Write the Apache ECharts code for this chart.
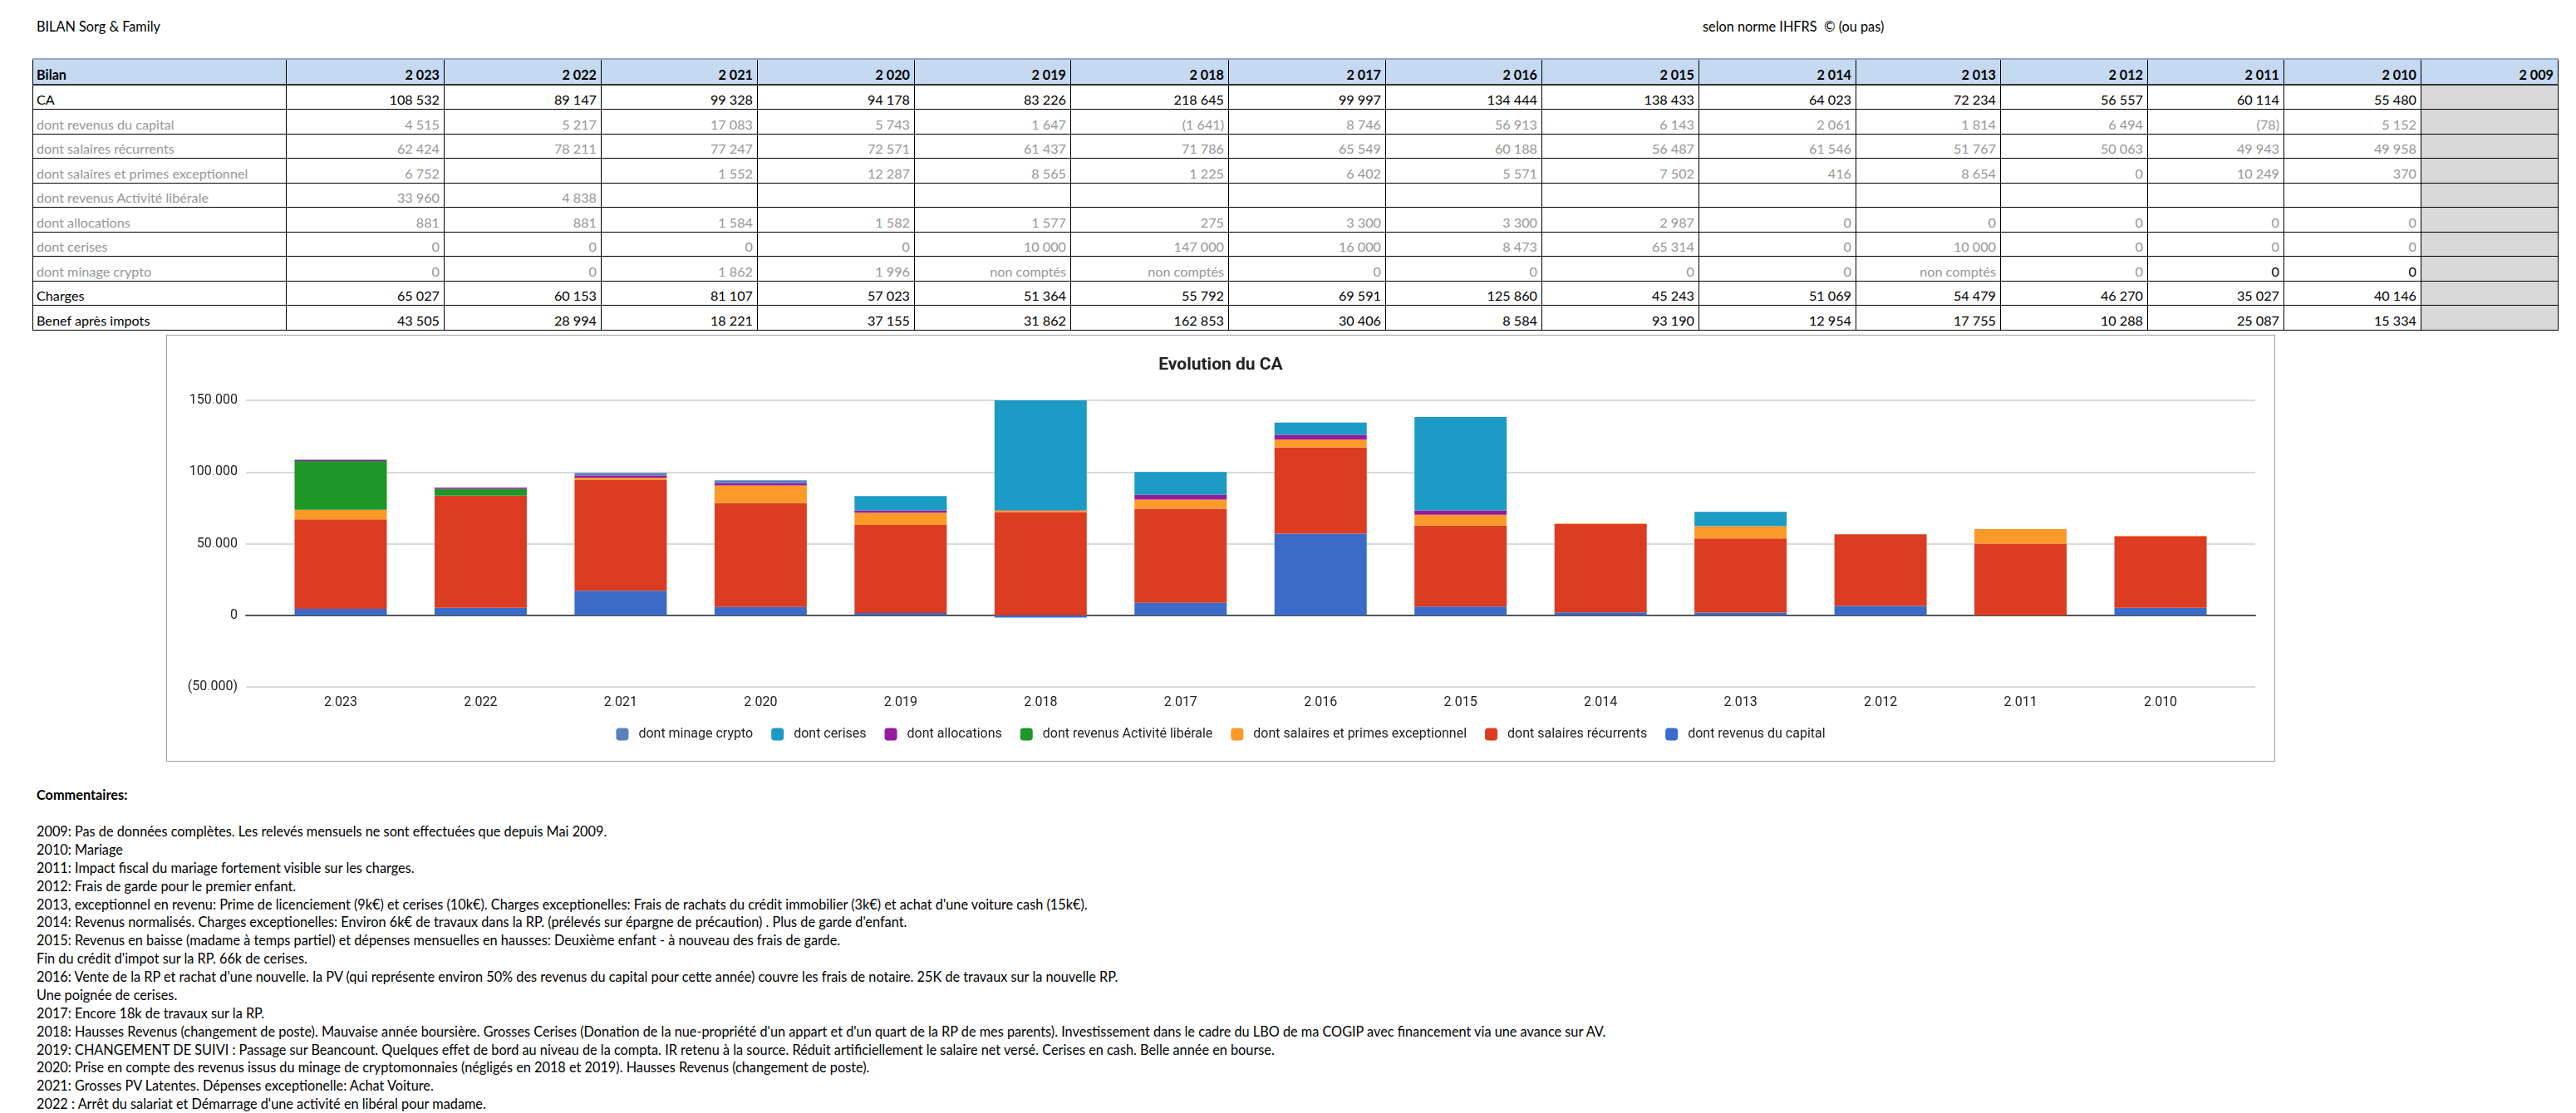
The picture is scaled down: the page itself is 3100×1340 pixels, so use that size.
<!DOCTYPE html>
<html>
<head>
<meta charset="utf-8">
<script src="https://cdn.jsdelivr.net/npm/echarts@6/dist/echarts.min.js"></script>
<style>
  html, body { margin:0; padding:0; background:#fff; }
  body { width:3100px; height:1340px; position:relative; overflow:hidden; font-family: 'Lato', 'Liberation Sans', sans-serif; color:#000; }
  .txt { position:absolute; font-size:16.3px; white-space:nowrap; line-height:20px; }
  #tbl { position:absolute; left:39px; top:70px; border-collapse:collapse; table-layout:fixed; font-size:16.2px; }
  #tbl td { border:1px solid #000; height:27.5px; padding:0 5px 1px 4px; vertical-align:bottom; white-space:nowrap; overflow:hidden; line-height:20px; }
  #tbl td.num { text-align:right; }
  #tbl tr.hdr td { background:#c5d9f1; font-weight:bold; border-top:2px solid #95a9c7; border-bottom:2px solid #333; }
  #tbl tr.sub td { color:#969696; }
  #tbl td.gray { background:#d9d9d9; }
  #tbl td.blk { color:#000 !important; }
  #chartBox { position:absolute; left:200px; top:403px; width:2538px; height:514px; box-sizing:border-box; border:1px solid #9e9e9e; }
  #chart { position:absolute; left:201px; top:404px; width:2536px; height:512px; }
  #comments { position:absolute; left:44px; top:990px; font-size:16.3px; line-height:21.87px; white-space:nowrap; }
</style>
</head>
<body>
<div class="txt" style="left:44px; top:22px;">BILAN Sorg &amp; Family</div>
<div class="txt" style="left:2049px; top:22px;">selon norme IHFRS&nbsp; © (ou pas)</div>
<table id="tbl"></table>
<div id="chartBox"></div>
<div id="chart"></div>
<div class="txt" style="left:44px; top:947px; font-weight:bold;">Commentaires:</div>
<div id="comments"></div>
<script>
// ---------- DATA ----------
const tableYears = [2023, 2022, 2021, 2020, 2019, 2018, 2017, 2016, 2015, 2014, 2013, 2012, 2011, 2010, 2009];
const chartYears = [2023, 2022, 2021, 2020, 2019, 2018, 2017, 2016, 2015, 2014, 2013, 2012, 2011, 2010];
const caTotal      = [108532, 89147, 99328, 94178, 83226, 218645, 99997, 134444, 138433, 64023, 72234, 56557, 60114, 55480];
const revCapital   = [4515, 5217, 17083, 5743, 1647, -1641, 8746, 56913, 6143, 2061, 1814, 6494, -78, 5152];
const salRecurrent = [62424, 78211, 77247, 72571, 61437, 71786, 65549, 60188, 56487, 61546, 51767, 50063, 49943, 49958];
const salExcept    = [6752, null, 1552, 12287, 8565, 1225, 6402, 5571, 7502, 416, 8654, 0, 10249, 370];
const revLiberal   = [33960, 4838, null, null, null, null, null, null, null, null, null, null, null, null];
const allocations  = [881, 881, 1584, 1582, 1577, 275, 3300, 3300, 2987, 0, 0, 0, 0, 0];
const cerises      = [0, 0, 0, 0, 10000, 147000, 16000, 8473, 65314, 0, 10000, 0, 0, 0];
const minageCrypto = [0, 0, 1862, 1996, 'non comptés', 'non comptés', 0, 0, 0, 0, 'non comptés', 0, 0, 0];
const charges      = [65027, 60153, 81107, 57023, 51364, 55792, 69591, 125860, 45243, 51069, 54479, 46270, 35027, 40146];
const benef        = [43505, 28994, 18221, 37155, 31862, 162853, 30406, 8584, 93190, 12954, 17755, 10288, 25087, 15334];
const yTicks = [-50000, 0, 50000, 100000, 150000];

const seriesNames = ['dont revenus du capital', 'dont salaires récurrents', 'dont salaires et primes exceptionnel',
  'dont revenus Activité libérale', 'dont allocations', 'dont cerises', 'dont minage crypto'];
const seriesColors = ['#3a6bc9', '#db3c22', '#fb9a28', '#1f9628', '#951b9c', '#1c9bc6', '#5a80bf'];

const commentLines = [
  "2009: Pas de données complètes. Les relevés mensuels ne sont effectuées que depuis Mai 2009.",
  "2010: Mariage",
  "2011: Impact fiscal du mariage fortement visible sur les charges.",
  "2012: Frais de garde pour le premier enfant.",
  "2013, exceptionnel en revenu: Prime de licenciement (9k€) et cerises (10k€). Charges exceptionelles: Frais de rachats du crédit immobilier (3k€) et achat d'une voiture cash (15k€).",
  "2014: Revenus normalisés. Charges exceptionelles: Environ 6k€ de travaux dans la RP. (prélevés sur épargne de précaution) . Plus de garde d'enfant.",
  "2015: Revenus en baisse (madame à temps partiel) et dépenses mensuelles en hausses: Deuxième enfant - à nouveau des frais de garde.",
  "Fin du crédit d'impot sur la RP. 66k de cerises.",
  "2016: Vente de la RP et rachat d'une nouvelle. la PV (qui représente environ 50% des revenus du capital pour cette année) couvre les frais de notaire. 25K de travaux sur la nouvelle RP.",
  "Une poignée de cerises.",
  "2017: Encore 18k de travaux sur la RP.",
  "2018: Hausses Revenus (changement de poste). Mauvaise année boursière. Grosses Cerises (Donation de la nue-propriété d'un appart et d'un quart de la RP de mes parents). Investissement dans le cadre du LBO de ma COGIP avec financement via une avance sur AV.",
  "2019: CHANGEMENT DE SUIVI : Passage sur Beancount. Quelques effet de bord au niveau de la compta. IR retenu à la source. Réduit artificiellement le salaire net versé. Cerises en cash. Belle année en bourse.",
  "2020: Prise en compte des revenus issus du minage de cryptomonnaies (négligés en 2018 et 2019). Hausses Revenus (changement de poste).",
  "2021: Grosses PV Latentes. Dépenses exceptionelle: Achat Voiture.",
  "2022 : Arrêt du salariat et Démarrage d'une activité en libéral pour madame."
];

// ---------- TABLE ----------
function group(n, sep) { return String(n).replace(/\B(?=(\d{3})+(?!\d))/g, sep); }
function fmt(v) {
  if (v === null || v === undefined) return '';
  if (typeof v === 'string') return v;
  if (v < 0) return '(' + group(-v, '\u00a0') + ')';
  return group(v, '\u00a0');
}
const colWidths = [305, 190, 189, 188, 189, 188, 190, 189, 188, 189, 189, 174, 177, 164, 165, 165];
const rows = [
  ['CA', caTotal, ''],
  ['dont revenus du capital', revCapital, 'sub'],
  ['dont salaires récurrents', salRecurrent, 'sub'],
  ['dont salaires et primes exceptionnel', salExcept, 'sub'],
  ['dont revenus Activité libérale', revLiberal, 'sub'],
  ['dont allocations', allocations, 'sub'],
  ['dont cerises', cerises, 'sub'],
  ['dont minage crypto', minageCrypto, 'sub'],
  ['Charges', charges, ''],
  ['Benef après impots', benef, '']
];
let html = '<colgroup>' + colWidths.map(w => '<col style="width:' + w + 'px">').join('') + '</colgroup>';
html += '<tr class="hdr"><td>Bilan</td>' + tableYears.map(y => '<td class="num">' + group(y, '\u00a0') + '</td>').join('') + '</tr>';
rows.forEach(r => {
  html += '<tr class="' + r[2] + '"><td>' + r[0] + '</td>';
  for (let i = 0; i < tableYears.length; i++) {
    if (i >= r[1].length) { html += '<td class="num gray"></td>'; continue; }
    const blk = (r[0] === 'dont minage crypto' && i >= 12) ? ' blk' : '';
    html += '<td class="num' + blk + '">' + fmt(r[1][i]) + '</td>';
  }
  html += '</tr>';
});
document.getElementById('tbl').innerHTML = html;
document.getElementById('comments').innerHTML = commentLines.map(l => '<div>' + l.replace(/&/g,'&amp;').replace(/</g,'&lt;') + '</div>').join('');

// ---------- CHART ----------
const toNum = v => (typeof v === 'number') ? v : 0;
const seriesData = [revCapital, salRecurrent, salExcept, revLiberal, allocations, cerises, minageCrypto];
const chart = echarts.init(document.getElementById('chart'));
const fontFam = 'Roboto, sans-serif';
const richNum = { a: { fontFamily: fontFam, fontSize: 16, color: '#222' }, d: { fontFamily: fontFam, fontSize: 16, color: '#a0a0a0' } };
function richGroup(n) { return group(n, '|').split('|').map(p => '{a|' + p + '}').join('{d|.}'); }
chart.setOption({
  backgroundColor: '#fff',
  animation: false,
  textStyle: { fontFamily: fontFam },
  title: { text: 'Evolution du CA', left: 'center', top: 25, padding: 0,
    textStyle: { fontFamily: fontFam, fontSize: 21, fontWeight: 'bold', color: '#222' } },
  legend: {
    data: seriesNames.slice().reverse(),
    left: 'center', top: 472, padding: 0,
    itemWidth: 15, itemHeight: 15, itemGap: 22, icon: 'roundRect',
    textStyle: { fontFamily: fontFam, fontSize: 16, color: '#222', padding: [0, 0, 0, 7] }
  },
  grid: [
    { left: 95, right: 23, top: 78, bottom: 89 },
    { left: 124.75, right: 52.75, top: 78, bottom: 89 }
  ],
  xAxis: [
    { type: 'value', gridIndex: 0, min: 0, max: 1,
      axisLine: { show: true, onZero: true, lineStyle: { color: '#555', width: 2 } },
      axisTick: { show: false }, axisLabel: { show: false }, splitLine: { show: false } },
    { type: 'category', gridIndex: 1, data: chartYears, boundaryGap: true,
      axisLine: { show: false, onZero: false }, axisTick: { show: false },
      axisLabel: { fontFamily: fontFam, fontSize: 16, color: '#222', margin: 11, rich: richNum,
        formatter: v => richGroup(v) } }
  ],
  yAxis: [
    { type: 'value', gridIndex: 0, min: yTicks[0], max: yTicks[yTicks.length - 1], interval: 50000,
      axisLine: { show: false }, axisTick: { show: false },
      axisLabel: { fontFamily: fontFam, fontSize: 16, color: '#222', margin: 10, rich: richNum,
        formatter: v => v < 0 ? '{a|(}' + richGroup(-v) + '{a|)}' : richGroup(v) },
      splitLine: { show: true, lineStyle: { color: '#d9d9d9', width: 2 } } },
    { type: 'value', gridIndex: 1, min: yTicks[0], max: yTicks[yTicks.length - 1], interval: 50000, show: false,
      splitLine: { show: false } }
  ],
  series: seriesNames.map((name, k) => ({
    name: name, type: 'bar', stack: 'ca', xAxisIndex: 1, yAxisIndex: 1,
    barWidth: 111, clip: true,
    itemStyle: { color: seriesColors[k] },
    data: seriesData[k].map(toNum)
  }))
});
</script>
</body>
</html>
